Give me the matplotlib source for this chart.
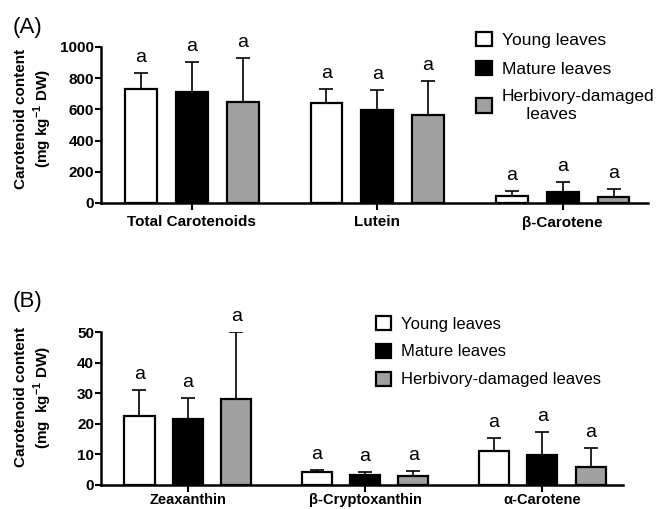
import matplotlib
matplotlib.use("Agg")
import matplotlib.pyplot as plt
import numpy as np
from matplotlib.patches import Patch

plt.rcParams['font.family'] = ['Liberation Sans', 'DejaVu Sans']
plt.rcParams['mathtext.fontset'] = 'custom'
plt.rcParams['mathtext.rm'] = 'Liberation Sans'
plt.rcParams['mathtext.bf'] = 'Liberation Sans:bold'

series = ['Young leaves', 'Mature leaves', 'Herbivory-damaged leaves']
colors = ['white', 'black', '#a0a0a0']

cats_a = ['Total Carotenoids', 'Lutein', 'β-Carotene']
mean_a = {
    'Young leaves': [731, 639, 47],
    'Mature leaves': [710, 596, 72],
    'Herbivory-damaged leaves': [645, 564, 40],
}
err_a = {
    'Young leaves': [102, 90, 30],
    'Mature leaves': [192, 128, 65],
    'Herbivory-damaged leaves': [286, 218, 52],
}
letters_a = [['a', 'a', 'a'], ['a', 'a', 'a'], ['a', 'a', 'a']]

cats_b = ['Zeaxanthin', 'β-Cryptoxanthin', 'α-Carotene']
mean_b = {
    'Young leaves': [22.5, 4.1, 11.1],
    'Mature leaves': [21.5, 3.2, 9.7],
    'Herbivory-damaged leaves': [28.1, 2.8, 5.9],
}
err_b = {
    'Young leaves': [8.6, 0.8, 4.2],
    'Mature leaves': [6.8, 1.0, 7.6],
    'Herbivory-damaged leaves': [21.8, 1.8, 6.1],
}
letters_b = [['a', 'a', 'a'], ['a', 'a', 'a'], ['a', 'a', 'a']]

fig = plt.figure(figsize=(6.59, 5.09), dpi=100)
W, H = 659, 509

def make_ax(left, right, top, bottom):
    return fig.add_axes([left / W, 1 - bottom / H, (right - left) / W, (bottom - top) / H])

axA = make_ax(101, 648, 47, 203)
axB = make_ax(101, 623, 332, 485)

def draw(ax, cats, means, errs, letters, ylim, yticks, spacing, width, xlim, a_off, xpad, xfs):
    x = np.arange(len(cats))
    for i, s in enumerate(series):
        pos = x + (i - 1) * spacing
        ax.bar(pos, means[s], width=width, color=colors[i], edgecolor='black',
               linewidth=1.6, zorder=2, label=s)
        ax.errorbar(pos, means[s], yerr=[np.zeros(len(cats)), errs[s]], fmt='none',
                    ecolor='black', elinewidth=1.2, capsize=5, capthick=1.2, zorder=1)
        for j, p in enumerate(pos):
            ax.annotate(letters[i][j], (p, means[s][j] + errs[s][j]), xytext=(0, a_off),
                        textcoords='offset points', ha='center', va='bottom', fontsize=14)
    ax.set_xlim(*xlim)
    ax.set_ylim(*ylim)
    ax.set_yticks(yticks)
    ax.set_xticks(x)
    ax.set_xticklabels(cats, fontweight='bold', fontsize=xfs)
    for lab in ax.get_yticklabels():
        lab.set_fontweight('bold')
        lab.set_fontsize(11)
    ax.spines['top'].set_visible(False)
    ax.spines['right'].set_visible(False)
    ax.spines['left'].set_linewidth(1.8)
    ax.spines['bottom'].set_linewidth(1.8)
    ax.tick_params(axis='y', length=4, width=1.5, pad=1)
    ax.tick_params(axis='x', length=5, width=1.5, pad=xpad)
    ax.patch.set_alpha(0)

draw(axA, cats_a, mean_a, err_a, letters_a, (0, 1000), [0, 200, 400, 600, 800, 1000],
     0.274, 0.172, (-0.49, 2.46), 5, 4, 11)
draw(axB, cats_b, mean_b, err_b, letters_b, (0, 50), [0, 10, 20, 30, 40, 50],
     0.273, 0.17, (-0.49, 2.456), 5, 0.5, 10.5)

# Legends
hA = [Patch(facecolor=c, edgecolor='black', linewidth=1.6) for c in colors]
labA = ['Young leaves', 'Mature leaves', 'Herbivory-damaged\n     leaves']
fig.legend(hA, labA, loc='upper left', bbox_to_anchor=(476 / W, 1 - 32 / H), frameon=False,
           fontsize=12.5, handlelength=0.9, handleheight=0.9, handletextpad=0.6,
           labelspacing=0.72, borderaxespad=0, borderpad=0)
hB = [Patch(facecolor=c, edgecolor='black', linewidth=1.6) for c in colors]
fig.legend(hB, series, loc='upper left', bbox_to_anchor=(376 / W, 1 - 316 / H), frameon=False,
           fontsize=12, handlelength=0.9, handleheight=0.9, handletextpad=0.6,
           labelspacing=0.73, borderaxespad=0, borderpad=0)

# Panel labels
fig.text(13 / W, 1 - 27 / H, '(A)', fontsize=16, ha='left', va='center')
fig.text(13 / W, 1 - 301 / H, '(B)', fontsize=16, ha='left', va='center')

# Y labels
fig.text(34 / W, 1 - 119 / H, 'Carotenoid content\n(mg kg$^{\\mathbf{-1}}$ DW)', rotation=90,
         ha='center', va='center', multialignment='center', fontsize=11, fontweight='bold',
         linespacing=1.2)
fig.text(34 / W, 1 - 397 / H, 'Carotenoid content\n(mg  kg$^{\\mathbf{-1}}$ DW)', rotation=90,
         ha='center', va='center', multialignment='center', fontsize=11, fontweight='bold',
         linespacing=1.2)

fig.savefig('out.png', dpi=100)
